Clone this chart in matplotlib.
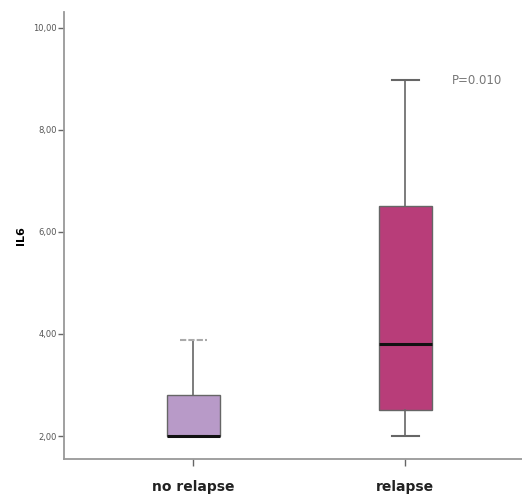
import matplotlib
matplotlib.use("Agg")
import matplotlib.pyplot as plt

# IL6 by relapse group (box summaries)
groups = ["no relapse", "relapse"]
whislo = [2.00, 2.00]
q1 = [2.00, 2.51]
median = [2.00, 3.80]
q3 = [2.80, 6.51]
whishi = [3.88, 8.97]
box_colors = ["#b89ac8", "#b83d79"]

y_ticks = [2, 4, 6, 8, 10]
y_tick_labels = ["2,00", "4,00", "6,00", "8,00", "10,00"]
p_text = "P=0.010"

fig = plt.figure(figsize=(5.22, 5.0), dpi=100)
ax = fig.add_axes([0.1226, 0.082, 0.8774, 0.894])

stats = []
for i, g in enumerate(groups):
    stats.append({"label": g, "whislo": whislo[i], "q1": q1[i], "med": median[i],
                  "q3": q3[i], "whishi": whishi[i], "fliers": []})

bp = ax.bxp(stats, positions=range(len(groups)), widths=0.25, patch_artist=True,
            showfliers=False,
            boxprops=dict(edgecolor="#666666", linewidth=1.0),
            medianprops=dict(color="#111111", linewidth=2.2),
            whiskerprops=dict(color="#666666", linewidth=1.2),
            capprops=dict(color="#666666", linewidth=1.5))
for patch, c in zip(bp["boxes"], box_colors):
    patch.set_facecolor(c)
for cap in bp["caps"]:
    x0, x1 = cap.get_xdata()
    mid = (x0 + x1) / 2
    cap.set_xdata([mid - 0.065, mid + 0.065])
# the upper cap of the first group is drawn fainter
bp["caps"][1].set_color("#aaaaaa")
bp["caps"][1].set_linestyle((0, (3, 1)))

ax.set_xlim(-0.61, 1.55)
ax.set_ylim(1.55, 10.31)

ax.set_yticks(y_ticks)
ax.set_yticklabels(y_tick_labels, fontsize=6, color="#555555")
ax.set_xticks(range(len(groups)))
ax.set_xticklabels(groups, fontsize=10, fontweight="bold", color="#222222")
ax.tick_params(axis="y", length=4, width=1.0, color="#666666", pad=1)
ax.tick_params(axis="x", length=5, width=1.0, color="#666666", pad=10)

for side in ["top", "right"]:
    ax.spines[side].set_visible(False)
for side in ["left", "bottom"]:
    ax.spines[side].set_color("#999999")
    ax.spines[side].set_linewidth(1.3)

ax.set_ylabel("IL6", fontsize=8, fontweight="bold", labelpad=5)

ax.text(1.22, whishi[1], p_text, fontsize=8.5, color="#777777", va="center", ha="left")

fig.savefig("out.png", dpi=100)
